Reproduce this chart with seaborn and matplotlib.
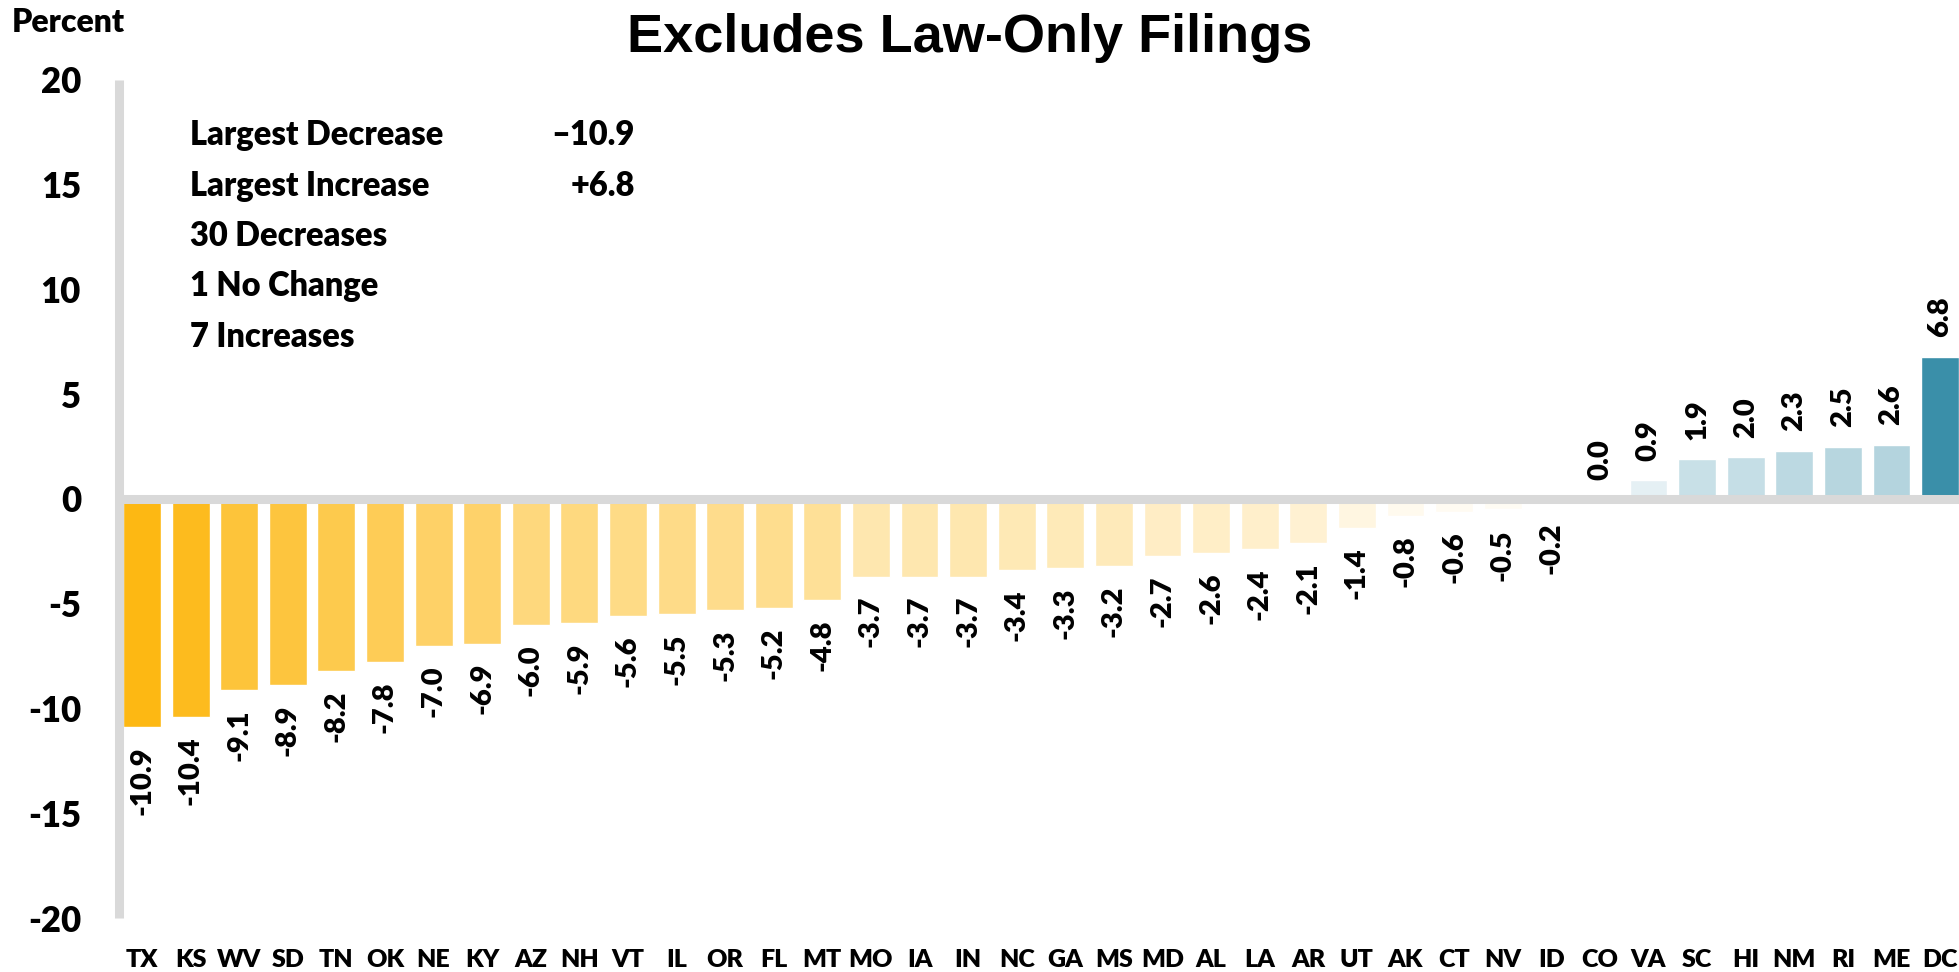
import matplotlib
matplotlib.use("Agg")
import matplotlib.pyplot as plt
import seaborn as sns
import numpy as np
import pandas as pd

# Percent change by state, sorted from largest decrease to largest increase
states = ["TX", "KS", "WV", "SD", "TN", "OK", "NE", "KY", "AZ", "NH", "VT", "IL",
          "OR", "FL", "MT", "MO", "IA", "IN", "NC", "GA", "MS", "MD", "AL", "LA",
          "AR", "UT", "AK", "CT", "NV", "ID", "CO", "VA", "SC", "HI", "NM", "RI",
          "ME", "DC"]
pct_change = [-10.9, -10.4, -9.1, -8.9, -8.2, -7.8, -7.0, -6.9, -6.0, -5.9, -5.6, -5.5,
              -5.3, -5.2, -4.8, -3.7, -3.7, -3.7, -3.4, -3.3, -3.2, -2.7, -2.6, -2.4,
              -2.1, -1.4, -0.8, -0.6, -0.5, -0.2, 0.0, 0.9, 1.9, 2.0, 2.3, 2.5,
              2.6, 6.8]
y_ticks = [-20, -15, -10, -5, 0, 5, 10, 15, 20]

summary_labels = ["Largest Decrease", "Largest Increase", "30 Decreases",
                  "1 No Change", "7 Increases"]
summary_values = ["\u201310.9", "+6.8", "", "", ""]

title = "Excludes Law-Only Filings"

sns.set_theme(style="white")
plt.rcParams["font.family"] = ["Lato", "DejaVu Sans"]
plt.rcParams["text.color"] = "black"
plt.rcParams["xtick.color"] = "black"
plt.rcParams["ytick.color"] = "black"
plt.rcParams["xtick.labelcolor"] = "black"
plt.rcParams["ytick.labelcolor"] = "black"
WEIGHT = "heavy"

W, H = 1959, 972
fig = plt.figure(figsize=(W / 100, H / 100), dpi=100)
fig.patch.set_facecolor("white")

# axes box: left spine at x=118.5px, y=20 at 80px, y=-20 at 918px
ax = fig.add_axes([118.5 / W, 1 - 918 / H, 1 - 118.5 / W, (918 - 80) / H])

neg_base = np.array([253, 184, 19]) / 255
pos_base = np.array([58, 143, 169]) / 255
max_neg = abs(min(pct_change))
max_pos = max(pct_change)


def shade(v):
    if v < 0:
        f = abs(v) / max_neg
        base = neg_base
    else:
        f = v / max_pos
        base = pos_base
    return tuple(1 - f * (1 - base))


colors = [shade(v) for v in pct_change]
df = pd.DataFrame({"state": states, "pct": pct_change})

sns.barplot(data=df, x="state", y="pct", hue="state", palette=colors,
            legend=False, width=0.78, saturation=1, ax=ax, zorder=2)

ax.set_xlim(-0.484, len(states) - 1 + 0.39)
ax.set_ylim(-20, 20)

grey = "#D9D9D9"
for s in ["top", "right", "bottom"]:
    ax.spines[s].set_visible(False)
ax.spines["left"].set_color(grey)
ax.spines["left"].set_linewidth(6.5)
ax.spines["left"].set_capstyle("butt")
ax.axhline(0, color=grey, lw=6.5, zorder=3, solid_capstyle="butt")

ax.set_yticks(y_ticks)
ax.set_yticklabels([str(t) for t in y_ticks], fontsize=25, fontweight=WEIGHT,
                   color="black")
ax.tick_params(axis="y", length=0, pad=27)
ax.set_xticks(range(len(states)))
ax.set_xticklabels(states, fontsize=18, fontweight=WEIGHT, color="black")
ax.tick_params(axis="x", length=0, pad=22)
ax.set_xlabel("")
ax.set_ylabel("")
ax.grid(False)

# value labels, rotated, just beyond each bar end
for i, v in enumerate(pct_change):
    off = -14 if v < 0 else 14
    ax.annotate(f"{v:.1f}", xy=(i, v), xytext=(0, off), textcoords="offset points",
                rotation=90, ha="center", va="top" if v < 0 else "bottom",
                fontsize=21, fontweight=WEIGHT, color="black", zorder=4)

# summary block
for k, (lab, val) in enumerate(zip(summary_labels, summary_values)):
    yy = 1 - (135 + 50.5 * k) / H
    fig.text(190 / W, yy, lab, fontsize=23.5, fontweight=WEIGHT, va="center",
             ha="left", color="black")
    if val:
        fig.text(635 / W, yy, val, fontsize=23.5, fontweight=WEIGHT, va="center",
                 ha="right", color="black")

fig.text(12 / W, 1 - 22 / H, "Percent", fontsize=23, fontweight=WEIGHT,
         va="center", ha="left", color="black")
fig.text(970 / W, 1 - 38 / H, title, fontsize=39, fontweight="bold",
         va="center", ha="center", color="black",
         family=["Liberation Sans", "DejaVu Sans"])

fig.savefig("out.png", dpi=100, facecolor="white")
